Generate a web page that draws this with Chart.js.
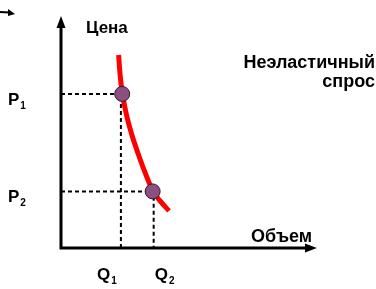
<!DOCTYPE html>
<html>
<head>
<meta charset="utf-8">
<script src="https://cdn.jsdelivr.net/npm/chart.js@4/dist/chart.umd.min.js"></script>
<style>
  html, body { margin: 0; padding: 0; background: #fff; }
  #wrap { width: 376px; height: 289px; }
</style>
</head>
<body>
<div id="wrap"><canvas id="chart" width="376" height="289"></canvas></div>
<script>
// Кривая неэластичного спроса (объем, цена)
const demandQ = [2.25, 2.31, 2.40, 2.56, 2.77, 3.03, 3.32, 3.59, 3.87, 4.22];
const demandP = [8.32, 7.46, 6.64, 5.73, 4.87, 4.01, 3.15, 2.46, 2.03, 1.60];

// Две точки равновесия
const pointQ = [2.39, 3.58];
const pointP = [6.64, 2.44];
const guideQ = [2.34, 3.62];

const priceLabels = ['P', 'P'];
const priceSubs = ['1', '2'];
const qtyLabels = ['Q', 'Q'];
const qtySubs = ['1', '2'];

const axisMax = 10;
const FONT = '"Liberation Sans", Arial, sans-serif';

const curve = demandQ.map((q, i) => ({ x: q, y: demandP[i] }));
const points = pointQ.map((q, i) => ({ x: q, y: pointP[i] }));

// пунктир: от оси цены к точке и вниз к оси объема
const guides = pointQ.map((q, i) => ({
  data: [{ x: 0, y: pointP[i] }, { x: guideQ[i], y: pointP[i] }, { x: guideQ[i], y: 0 }],
  showLine: true,
  borderColor: '#000',
  borderWidth: 2,
  borderDash: [4, 3],
  pointRadius: 0,
  tension: 0,
  clip: false,
  order: 3
}));

const axesAndText = {
  id: 'axesAndText',
  beforeDatasetsDraw(chart) {
    const { ctx, chartArea: a } = chart;
    ctx.save();
    ctx.strokeStyle = '#000';
    ctx.fillStyle = '#000';
    ctx.lineWidth = 3;
    ctx.beginPath();
    ctx.moveTo(a.left, a.top + 8);
    ctx.lineTo(a.left, a.bottom);
    ctx.lineTo(a.right - 8, a.bottom);
    ctx.stroke();
    // стрелки
    ctx.beginPath();
    ctx.moveTo(a.left, a.top);
    ctx.lineTo(a.left - 4.5, a.top + 12);
    ctx.lineTo(a.left + 4.5, a.top + 12);
    ctx.closePath();
    ctx.fill();
    ctx.beginPath();
    ctx.moveTo(a.right, a.bottom);
    ctx.lineTo(a.right - 12, a.bottom - 4.5);
    ctx.lineTo(a.right - 12, a.bottom + 4.5);
    ctx.closePath();
    ctx.fill();
    // обрезанная стрелка в углу
    ctx.lineWidth = 2;
    ctx.beginPath();
    ctx.moveTo(0, 12);
    ctx.lineTo(10, 12.5);
    ctx.stroke();
    ctx.beginPath();
    ctx.moveTo(15, 14);
    ctx.lineTo(8, 9);
    ctx.lineTo(8, 16);
    ctx.closePath();
    ctx.fill();
    ctx.restore();
  },
  afterDraw(chart) {
    const { ctx, chartArea: a, scales: { x, y } } = chart;
    ctx.save();
    ctx.fillStyle = '#000';
    ctx.textBaseline = 'middle';

    ctx.font = 'bold 17px ' + FONT;
    ctx.textAlign = 'left';
    ctx.fillText('Цена', a.left + 25, 28);
    ctx.font = 'bold 18px ' + FONT;
    ctx.fillText('Объем', 251, 237);
    ctx.textAlign = 'right';
    ctx.fillText('Неэластичный', 375, 63);
    ctx.fillText('спрос', 375, 82);

    const drawSub = (txt, sub, left, cy) => {
      ctx.textAlign = 'left';
      ctx.font = 'bold 17px ' + FONT;
      ctx.fillText(txt, left, cy);
      const w = ctx.measureText(txt).width;
      ctx.font = 'bold 10px ' + FONT;
      ctx.fillText(sub, left + w + 1, cy + 6);
    };
    pointP.forEach((p, i) => drawSub(priceLabels[i], priceSubs[i], 8, y.getPixelForValue(p) + 6));
    const qOffsets = [-24, 1];
    guideQ.forEach((q, i) => drawSub(qtyLabels[i], qtySubs[i], x.getPixelForValue(q) + qOffsets[i], 275));
    ctx.restore();
  }
};

new Chart(document.getElementById('chart'), {
  type: 'scatter',
  data: {
    datasets: [
      ...guides,
      {
        data: curve,
        showLine: true,
        borderColor: '#ff0000',
        borderWidth: 5,
        pointRadius: 0,
        cubicInterpolationMode: 'monotone',
        borderCapStyle: 'butt',
        clip: false,
        order: 2
      },
      {
        data: points,
        showLine: false,
        pointRadius: 7.5,
        pointBackgroundColor: '#8b4f80',
        pointBorderColor: '#3a1530',
        pointBorderWidth: 1,
        clip: false,
        order: 1
      }
    ]
  },
  options: {
    responsive: false,
    animation: false,
    layout: { padding: { left: 61, right: 59, top: 16, bottom: 41 } },
    plugins: { legend: { display: false }, tooltip: { enabled: false } },
    scales: {
      x: { type: 'linear', min: 0, max: axisMax, display: false },
      y: { type: 'linear', min: 0, max: axisMax, display: false }
    }
  },
  plugins: [axesAndText]
});
</script>
</body>
</html>
